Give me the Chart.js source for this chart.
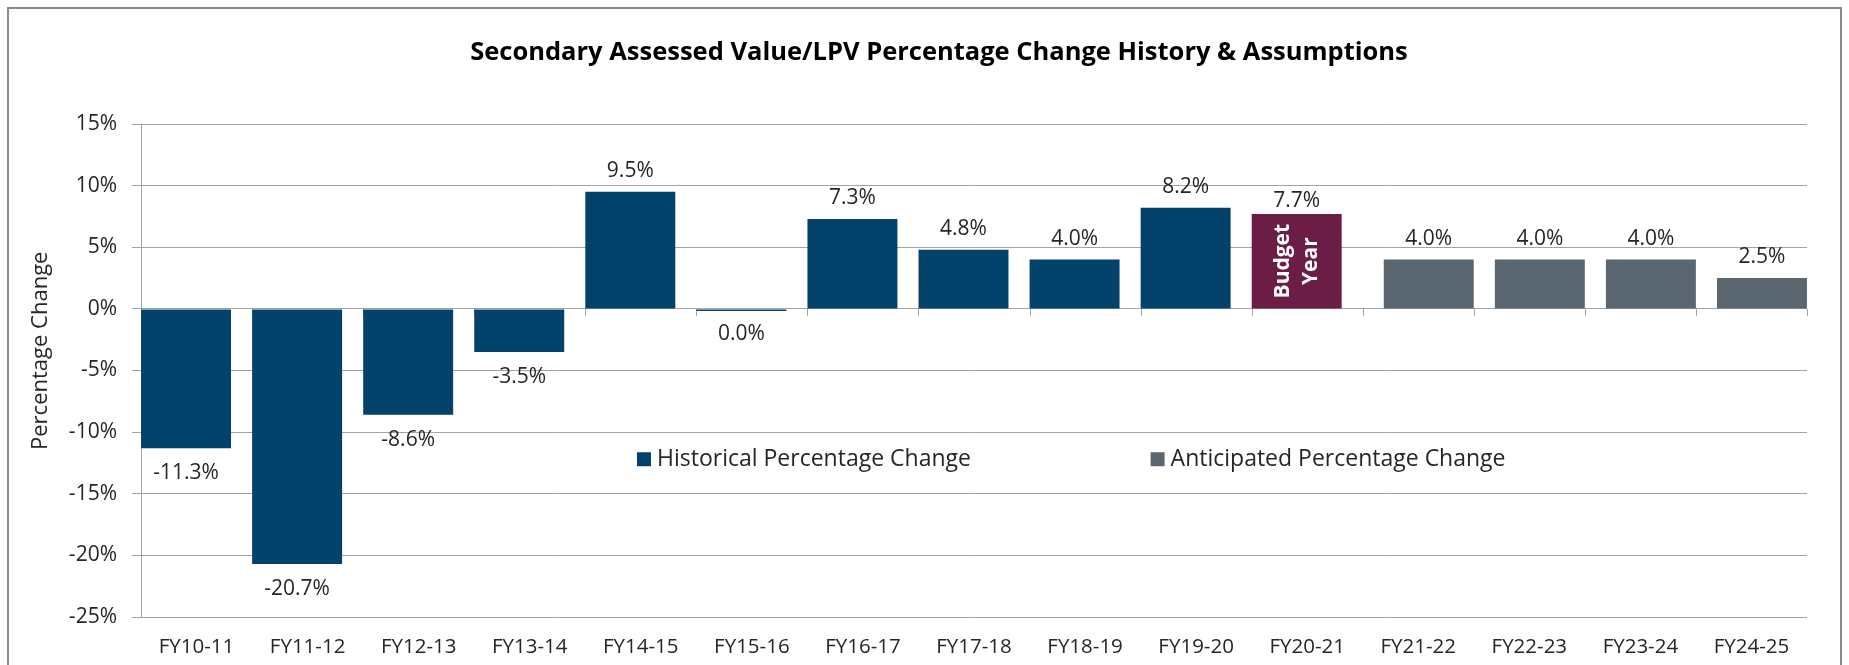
<!DOCTYPE html>
<html>
<head>
<meta charset="utf-8">
<script src="https://cdn.jsdelivr.net/npm/chart.js@4.4.0/dist/chart.umd.min.js"></script>
<style>
  html, body { margin: 0; padding: 0; background: #fff; }
  #wrap { width: 1849px; height: 665px; }
</style>
</head>
<body>
<div id="wrap"><canvas id="avChart" width="1849" height="665"></canvas></div>
<script>
// Secondary AV / LPV percentage change chart

const categories = ['FY10-11', 'FY11-12', 'FY12-13', 'FY13-14', 'FY14-15', 'FY15-16', 'FY16-17', 'FY17-18',
  'FY18-19', 'FY19-20', 'FY20-21', 'FY21-22', 'FY22-23', 'FY23-24', 'FY24-25'];
const historical = [-11.3, -20.7, -8.6, -3.5, 9.5, -0.04, 7.3, 4.8, 4.0, 8.2, 7.7, null, null, null, null];
const anticipated = [null, null, null, null, null, null, null, null, null, null, null, 4.0, 4.0, 4.0, 2.5];
const yTicks = [15, 10, 5, 0, -5, -10, -15, -20, -25];
const budgetYear = 'FY20-21';

const NAVY = '#03426a';
const SLATE = '#5b6770';
const MAROON = '#6b1d45';
const GRID = '#a3a3a3';
const TEXT = '#262626';
const FONT = '"Open Sans", "Noto Sans", sans-serif';

const budgetIdx = categories.indexOf(budgetYear);
const fmt = v => (Math.round(v * 10) / 10 + 0).toFixed(1) + '%';

const overlay = {
  id: 'overlay',
  beforeDraw(chart) {
    const ctx = chart.ctx;
    ctx.save();
    ctx.fillStyle = '#fff';
    ctx.fillRect(0, 0, chart.width, chart.height);
    ctx.strokeStyle = '#8a8a8a';
    ctx.lineWidth = 2;
    ctx.strokeRect(8, 8, 1833, 700);
    ctx.restore();
  },
  beforeDatasetsDraw(chart) {
    // category tick marks hanging off the zero line
    const { ctx, chartArea } = chart;
    const y0 = chart.scales.y.getPixelForValue(0);
    const w = (chartArea.right - chartArea.left) / categories.length;
    ctx.save();
    ctx.strokeStyle = GRID;
    ctx.lineWidth = 1;
    for (let i = 0; i <= categories.length; i++) {
      const x = Math.round(chartArea.left + i * w) + 0.5;
      ctx.beginPath(); ctx.moveTo(x, y0); ctx.lineTo(x, y0 + 7); ctx.stroke();
    }
    ctx.restore();
  },
  afterDatasetsDraw(chart) {
    const { ctx, chartArea } = chart;
    const ys = chart.scales.y;
    ctx.save();

    // value labels
    ctx.font = '21px ' + FONT;
    ctx.fillStyle = TEXT;
    ctx.textAlign = 'center';
    ctx.textBaseline = 'middle';
    chart.data.datasets.forEach((ds, di) => {
      const meta = chart.getDatasetMeta(di);
      ds.data.forEach((v, i) => {
        if (v === null) return;
        const bar = meta.data[i];
        const py = ys.getPixelForValue(v);
        let ly = v < 0 ? py + 25 : py - 21;
        if (di === 0 && i === budgetIdx) ly = py - 13;
        ctx.fillText(fmt(v), bar.x, ly);
      });
    });

    // budget year text inside its bar
    const bb = chart.getDatasetMeta(0).data[budgetIdx];
    ctx.save();
    ctx.translate(bb.x, (bb.y + bb.base) / 2);
    ctx.rotate(-Math.PI / 2);
    ctx.fillStyle = '#fff';
    ctx.font = 'bold 21px ' + FONT;
    ctx.fillText('Budget', 0, -14);
    ctx.fillText('Year', 0, 14);
    ctx.restore();

    // legend inside plot
    const ly = ys.getPixelForValue(-12.2);
    const pw = chartArea.right - chartArea.left;
    const items = [
      { text: chart.data.datasets[0].label, color: NAVY, x: chartArea.left + 0.2977 * pw },
      { text: chart.data.datasets[1].label, color: SLATE, x: chartArea.left + 0.606 * pw },
    ];
    ctx.textAlign = 'left';
    ctx.font = '23px ' + FONT;
    items.forEach(it => {
      ctx.fillStyle = it.color;
      ctx.fillRect(it.x, ly - 7, 14, 14);
      ctx.fillStyle = TEXT;
      ctx.fillText(it.text, it.x + 20, ly);
    });

    // y axis title
    ctx.save();
    ctx.translate(41, ys.getPixelForValue(-3.4));
    ctx.rotate(-Math.PI / 2);
    ctx.textAlign = 'center';
    ctx.font = '22px ' + FONT;
    ctx.fillText('Percentage Change', 0, 0);
    ctx.restore();

    // chart title
    ctx.textAlign = 'center';
    ctx.fillStyle = '#000';
    ctx.font = 'bold 25.5px ' + FONT;
    ctx.fillText('Secondary Assessed Value/LPV Percentage Change History & Assumptions', 939, 53);

    ctx.restore();
  }
};

new Chart(document.getElementById('avChart'), {
  type: 'bar',
  data: {
    labels: categories,
    datasets: [
      {
        label: 'Historical Percentage Change',
        data: historical,
        backgroundColor: c => (c.dataIndex === budgetIdx ? MAROON : NAVY),
        minBarLength: 2,
        categoryPercentage: 0.378,
        barPercentage: 4.2857,
      },
      {
        label: 'Anticipated Percentage Change',
        data: anticipated,
        backgroundColor: SLATE,
        categoryPercentage: 0.378,
        barPercentage: 4.2857,
      },
    ],
  },
  options: {
    responsive: false,
    animation: false,
    devicePixelRatio: 1,
    layout: { padding: { top: 124, right: 42, bottom: 0, left: 0 } },
    plugins: { legend: { display: false }, title: { display: false }, tooltip: { enabled: false } },
    scales: {
      x: {
        grid: { display: false, drawTicks: false },
        border: { display: false },
        ticks: { color: TEXT, font: { family: FONT, size: 20.5 }, padding: 18, maxRotation: 0, autoSkip: false },
        afterFit: s => { s.height = 48; },
      },
      y: {
        min: -25, max: 15,
        afterBuildTicks: s => { s.ticks = yTicks.map(v => ({ value: v })); },
        grid: { color: GRID, lineWidth: 1, tickLength: 9 },
        border: { display: true, color: GRID, width: 1 },
        ticks: { color: TEXT, font: { family: FONT, size: 21 }, padding: 15, callback: v => v + '%' },
        afterFit: s => { s.width = 141; },
      },
    },
  },
  plugins: [overlay],
});
</script>
</body>
</html>
